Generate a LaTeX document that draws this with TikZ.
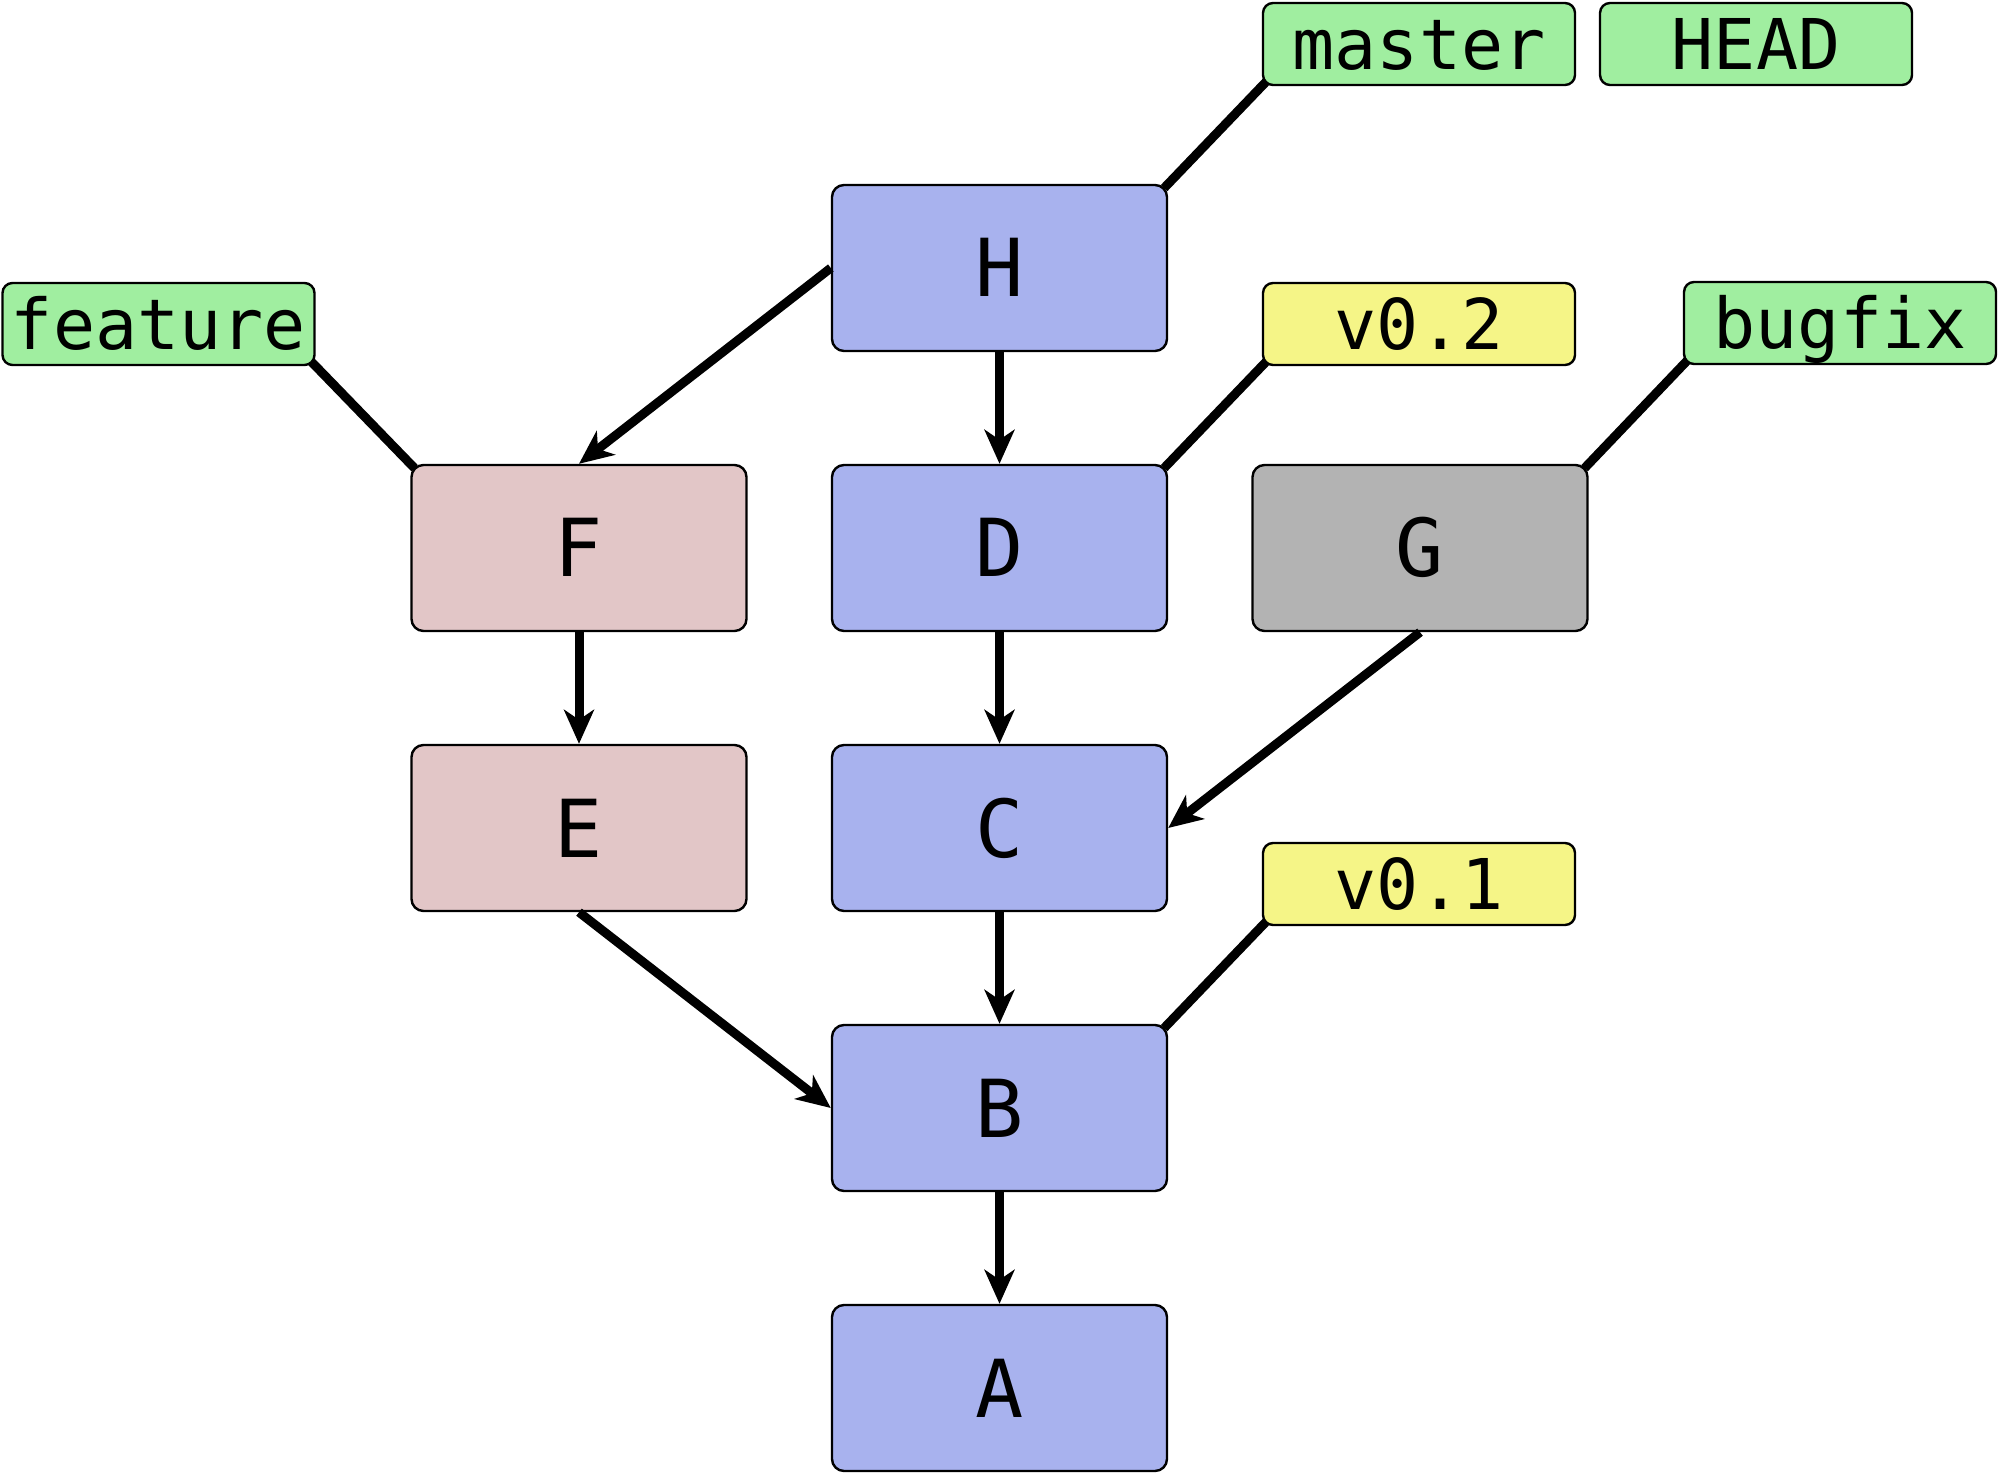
\documentclass[tikz,border=0pt]{standalone}
\usepackage{fontspec}
\setmonofont{DejaVu Sans Mono}
\usetikzlibrary{arrows.meta,backgrounds}
\definecolor{commitblue}{RGB}{168,178,238}
\definecolor{commitpink}{RGB}{226,198,199}
\definecolor{commitgray}{RGB}{179,179,179}
\definecolor{refgreen}{RGB}{160,238,160}
\definecolor{refyellow}{RGB}{245,245,135}
\tikzset{
  commit/.style={draw=black, line width=1.2pt, rounded corners=6pt, inner sep=0pt,
    minimum width=167.5pt, minimum height=83pt, fill=commitblue,
    font=\ttfamily\fontsize{40}{48}\selectfont, text height=29pt, text depth=0pt},
  refbox/.style={draw=black, line width=1.2pt, rounded corners=5pt, inner sep=0pt,
    minimum width=156pt, minimum height=41pt, fill=refgreen,
    font=\ttfamily\fontsize{35}{42}\selectfont, text height=25.5pt, text depth=0pt},
  parent/.style={-{Stealth[length=17pt,width=15pt,inset=5pt]}, line width=4.5pt},
  pointer/.style={line width=4.5pt, shorten <=-3pt, shorten >=-3pt},
}
\begin{document}
\begin{tikzpicture}[x=0.5pt,y=-0.5pt]
  \useasboundingbox (0,0) rectangle (2000,1475);
  % commits
  \node[commit] (H) at (999.5,268) {H};
  \node[commit] (D) at (999.5,548) {D};
  \node[commit] (C) at (999.5,828) {C};
  \node[commit] (B) at (999.5,1108) {B};
  \node[commit] (A) at (999.5,1388) {A};
  \node[commit, fill=commitpink] (F) at (579,548) {F};
  \node[commit, fill=commitpink] (E) at (579,828) {E};
  \node[commit, fill=commitgray] (G) at (1420,548) {G};
  % branches and tags
  \node[refbox] (master) at (1419,44) {master};
  \node[refbox] (HEAD) at (1756,44) {HEAD};
  \node[refbox] (feature) at (158.5,324) {feature};
  \node[refbox, fill=refyellow] (v02) at (1419,324) {v0.2};
  \node[refbox] (bugfix) at (1840,323) {bugfix};
  \node[refbox, fill=refyellow] (v01) at (1419,884) {v0.1};
  \begin{scope}[on background layer]
    \draw[pointer] (master.south west) -- (H.north east);
    \draw[pointer] (v02.south west) -- (D.north east);
    \draw[pointer] (bugfix.south west) -- (G.north east);
    \draw[pointer] (v01.south west) -- (B.north east);
    \draw[pointer] (feature.south east) -- (F.north west);
  \end{scope}
  % parents
  \draw[parent] (H.south) -- (D.north);
  \draw[parent] (H.west) -- (F.north);
  \draw[parent] (D.south) -- (C.north);
  \draw[parent] (F.south) -- (E.north);
  \draw[parent] (G.south) -- (C.east);
  \draw[parent] (C.south) -- (B.north);
  \draw[parent] (E.south) -- (B.west);
  \draw[parent] (B.south) -- (A.north);
\end{tikzpicture}
\end{document}
